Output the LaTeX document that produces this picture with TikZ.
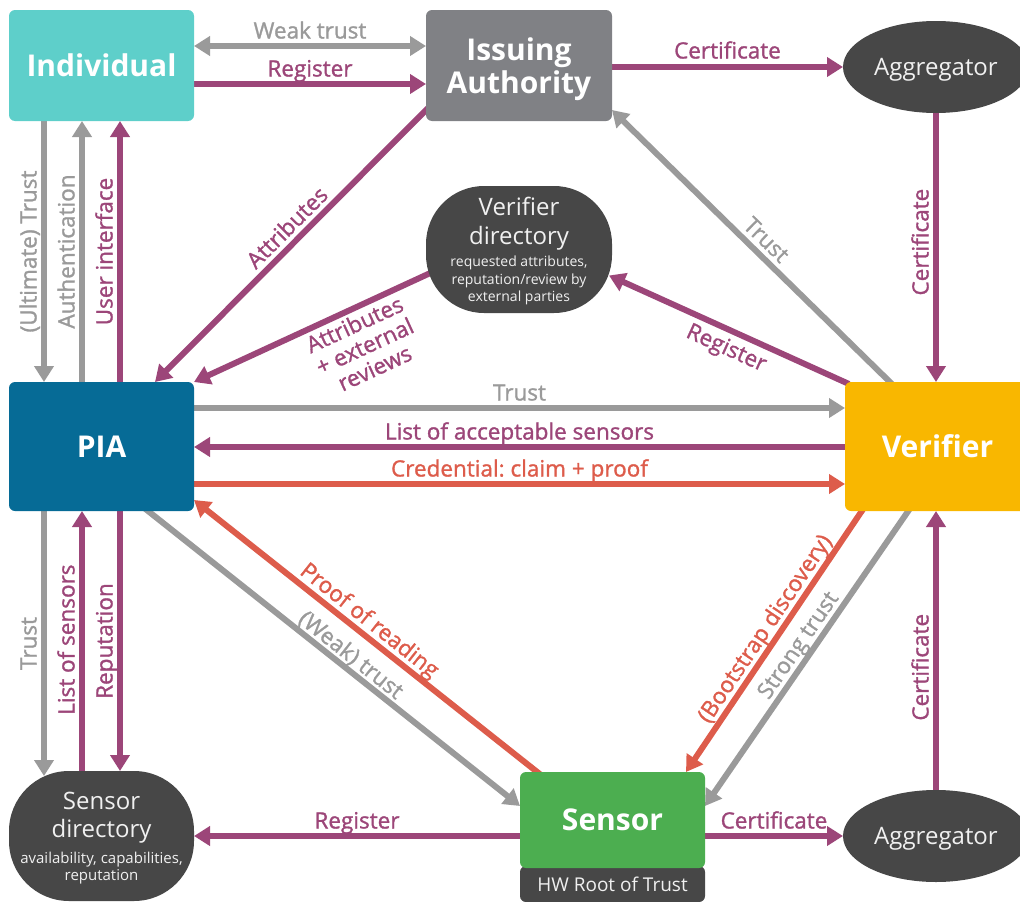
\documentclass[tikz,border=0pt]{standalone}
\usepackage{fontspec}
\setmainfont{Open Sans}
\newfontfamily\lblfont{Open Sans}[FakeBold=1.3]
\usetikzlibrary{arrows.meta,shapes.geometric,calc}

\definecolor{cInd}{HTML}{5ECFCA}
\definecolor{cIA}{HTML}{808185}
\definecolor{cDark}{HTML}{474747}
\definecolor{cPIA}{HTML}{066B96}
\definecolor{cVer}{HTML}{F9B700}
\definecolor{cSen}{HTML}{4CAE50}
\definecolor{cPur}{HTML}{9C4679}
\definecolor{cGry}{HTML}{9A9A9A}
\definecolor{cRed}{HTML}{DD5C4B}

\newcommand\dirT{\fontsize{24}{27}\selectfont}
\newcommand\dirS{\fontsize{14}{16}\selectfont}

\pgfdeclarelayer{bg}
\pgfsetlayers{bg,main}

\frenchspacing
\begin{document}
\begin{tikzpicture}[x=1pt,y=-1pt,
  >={Triangle[length=16pt,width=19pt]},
  box/.style={inner sep=0pt, outer sep=0pt, rounded corners=6pt,
    minimum width=185pt, minimum height=111pt, text=white, align=center,
    text depth=0pt, font=\bfseries\fontsize{30}{33}\selectfont},
  agg/.style={ellipse, fill=cDark, inner sep=0pt, outer sep=0pt,
    minimum width=186pt, minimum height=92pt, text=white!94!black,
    text depth=0pt, font=\fontsize{24}{27}\selectfont},
  dir/.style={fill=cDark, inner sep=0pt, outer sep=0pt, align=center,
    text=white!94!black, text depth=0pt, font=\dirS},
  conn/.style={line width=6pt},
  gl/.style={conn, draw=cGry},
  pl/.style={conn, draw=cPur},
  rl/.style={conn, draw=cRed},
  lbl/.style={font=\lblfont\fontsize{22.5}{24}\selectfont, inner sep=3pt, text depth=0pt},
  glbl/.style={lbl, text=cGry},
  plbl/.style={lbl, text=cPur},
  rlbl/.style={lbl, text=cRed},
  vlbl/.style={rotate=90, anchor=south, inner sep=4.5pt, pos=.5},
]
\useasboundingbox (0,0) rectangle (1020,902);
\clip (0,0) rectangle (1020,902);

% actors
\node[box, fill=cInd] (ind) at (101.5,65.5) {Individual};
\node[box, fill=cIA, minimum width=186pt] (ia) at (519,65.5) {Issuing\\Authority};
\node[agg] (agg1) at (936,67) {Aggregator};
\node[dir, minimum width=186pt, minimum height=127pt, rounded corners=58pt] (vd) at (519,249.5)
  {\dirT Verifier\\[9pt]\dirT directory\\[5pt]\dirS requested attributes,\\[2pt]\dirS reputation/review by\\[1pt]\dirS external parties};
\node[box, fill=cPIA, minimum height=129pt] (pia) at (101.5,446.5) {PIA};
\node[box, fill=cVer, minimum height=129pt] (ver) at (937.5,446.5) {Verifier};
\node[dir, minimum width=185pt, minimum height=130pt, rounded corners=60pt] (sd) at (101.5,836)
  {\dirT Sensor\\[9pt]\dirT directory\\[7pt]\fontsize{15}{17}\selectfont availability, capabilities,\\[1pt]\fontsize{15}{17}\selectfont reputation};
\node[box, fill=cDark, minimum height=36pt, font=\fontsize{19}{22}\selectfont, text=white!94!black] (hw) at (612.5,884) {HW Root of Trust};
\node[box, fill=cSen, minimum height=96pt] (sen) at (612.5,820) {Sensor};
\node[agg] (agg2) at (936,836) {Aggregator};

\begin{pgfonlayer}{bg}
% Individual <-> Issuing Authority
\draw[gl,<->] (ind.east|-0,46) -- node[glbl,above=1.5pt]{Weak trust} (ia.west|-0,46);
\draw[pl,->] (ind.east|-0,84) -- node[plbl,above=1.5pt]{Register} (ia.west|-0,84);
\draw[pl,->] (ia.east|-agg1.west) -- node[plbl,above=2.5pt]{Certificate} (agg1.west);
\draw[pl,->] (agg1.south) -- node[plbl,vlbl,pos=.48]{Certificate} (ver.north-|agg1.south);

% Individual <-> PIA
\draw[gl,->] (ind.south-|44,0) -- node[glbl,vlbl]{(Ultimate) Trust} (pia.north-|44,0);
\draw[gl,->] (pia.north-|82,0) -- node[glbl,vlbl]{Authentication} (ind.south-|82,0);
\draw[pl,->] (pia.north-|120,0) -- node[plbl,vlbl]{User interface} (ind.south-|120,0);

% attributes towards the PIA
\draw[pl,->] ($(ia.south west)+(4,-15)$) -- node[plbl,sloped,above=1.5pt,pos=.48]{Attributes} (pia.north-|155,0);
\draw[pl,->] ($(vd.center)+(-80,19.5)$) -- node[plbl,sloped,below=0pt,pos=.37,align=center]{Attributes\\+ external\\reviews} (pia.north east);

% Verifier upwards
\draw[gl,->] ($(ver.north west)+(49,4)$) -- node[glbl,sloped,above=1.5pt,pos=.49]{Trust} (ia.east|-0,110);
\draw[pl,->] ($(ver.north west)+(4,2)$) -- node[plbl,sloped,below=2pt,pos=.48]{Register} ($(vd.center)+(90,26)$);

% PIA <-> Verifier
\draw[gl,->] (pia.east|-0,408) -- node[glbl,above=1.5pt]{Trust} (ver.west|-0,408);
\draw[pl,->] (ver.west|-0,447) -- node[plbl,above=1.5pt]{List of acceptable sensors} (pia.east|-0,447);
\draw[rl,->] (pia.east|-0,484) -- node[rlbl,above=1.5pt]{Credential: claim + proof} (ver.west|-0,484);

% PIA <-> Sensor directory
\draw[gl,->] (pia.south-|44,0) -- node[glbl,vlbl]{Trust} ($(sd.north west)+(35,5)$);
\draw[pl,->] ($(sd.north west)+(73,8)$) -- node[plbl,vlbl,pos=.52]{List of sensors} (pia.south-|82,0);
\draw[pl,->] (pia.south-|120,0) -- node[plbl,vlbl]{Reputation} (sd.north-|120,0);

% PIA <-> Sensor
\draw[gl,->] ($(pia.south west)+(134,-4)$) -- node[glbl,sloped,above=0pt,pos=.53]{(Weak) trust} (sen.west|-0,806);
\draw[rl,->] ($(sen.north west)+(21,3)$) -- node[rlbl,sloped,above=1.5pt,pos=.52]{Proof of reading} (pia.east|-0,500);

% Verifier <-> Sensor
\draw[rl,->] ($(ver.south west)+(19.5,-4)$) -- node[rlbl,sloped,above=1.5pt,pos=.49]{(Bootstrap discovery)} (sen.north-|686,0);
\draw[gl,->] ($(ver.south west)+(66,-4)$) -- node[glbl,sloped,above=1.5pt,pos=.49]{Strong trust} (sen.east|-0,806);
\draw[pl,->] (agg2.north) -- node[plbl,vlbl,pos=.44]{Certificate} (ver.south-|agg2.north);

% Sensor outwards
\draw[pl,->] (sen.west|-0,836) -- node[plbl,above=1.5pt]{Register} (sd.east|-0,836);
\draw[pl,->] (sen.east|-agg2.west) -- node[plbl,above=1.5pt]{Certificate} (agg2.west);
\end{pgfonlayer}
\end{tikzpicture}
\end{document}
